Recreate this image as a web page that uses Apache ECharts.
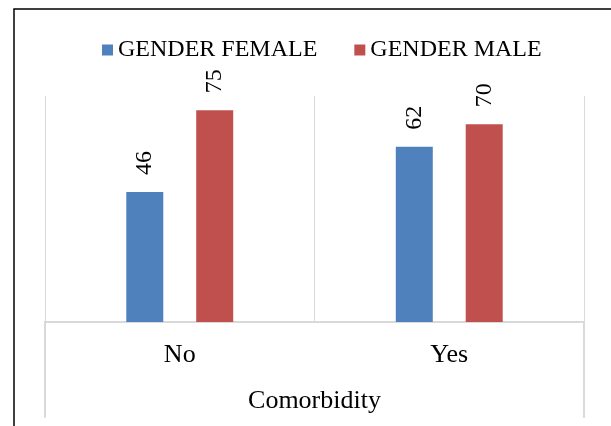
<!DOCTYPE html>
<html>
<head>
<meta charset="utf-8">
<script src="https://cdn.jsdelivr.net/npm/echarts@6/dist/echarts.min.js"></script>
<style>
  html, body { margin: 0; padding: 0; background: #fff; }
  #chart { width: 611px; height: 426px; }
</style>
</head>
<body>
<div id="chart"></div>
<script>
// data
const categories = ['No', 'Yes'];
const femaleValues = [46, 62];
const maleValues = [75, 70];
const seriesNames = ['GENDER FEMALE', 'GENDER MALE'];

const font = '"Liberation Serif", "Times New Roman", serif';
const gridColor = '#d9d9d9';

const chart = echarts.init(document.getElementById('chart'));

const barLabel = {
  show: true,
  position: 'top',
  rotate: 90,
  align: 'left',
  verticalAlign: 'middle',
  distance: 17,
  fontFamily: font,
  fontSize: 24,
  color: '#000'
};

// plain axis used only for the outer separator lines below the category axis
const edgeAxis = (position) => ({
  type: 'value',
  gridIndex: 1,
  position,
  axisLine: { show: true, lineStyle: { color: gridColor, width: 2 } },
  axisTick: { show: false },
  axisLabel: { show: false },
  splitLine: { show: false }
});

chart.setOption({
  animation: false,
  graphic: [{
    type: 'rect',
    shape: { x: 14, y: 9, width: 700, height: 500 },
    style: { fill: 'none', stroke: '#000', lineWidth: 1.5 },
    silent: true
  }],
  legend: {
    top: 33,
    left: 97,
    itemWidth: 11,
    itemHeight: 11,
    itemGap: 37,
    icon: 'rect',
    textStyle: { fontFamily: font, fontSize: 24, color: '#000' },
    data: seriesNames
  },
  grid: [
    { left: 45, right: 27, top: 96, bottom: 104 },
    { left: 45, right: 27, top: 322, bottom: 9 }
  ],
  xAxis: [
    {
      type: 'category',
      data: categories,
      name: 'Comorbidity',
      nameLocation: 'middle',
      nameGap: 66,
      nameTextStyle: { fontFamily: font, fontSize: 26, color: '#000' },
      axisLine: { lineStyle: { color: gridColor, width: 2 } },
      axisTick: { show: false },
      splitLine: { show: true, lineStyle: { color: gridColor } },
      axisLabel: { margin: 20, fontFamily: font, fontSize: 26, color: '#000' }
    },
    { type: 'category', gridIndex: 1, data: categories, show: false }
  ],
  yAxis: [
    { type: 'value', min: 0, max: 80, show: false },
    edgeAxis('left'),
    edgeAxis('right')
  ],
  series: [
    {
      name: seriesNames[0],
      type: 'bar',
      barWidth: 37,
      barGap: '89%',
      itemStyle: { color: '#4f81bd' },
      label: barLabel,
      data: femaleValues
    },
    {
      name: seriesNames[1],
      type: 'bar',
      barWidth: 37,
      itemStyle: { color: '#c0504d' },
      label: barLabel,
      data: maleValues
    }
  ]
});
</script>
</body>
</html>
